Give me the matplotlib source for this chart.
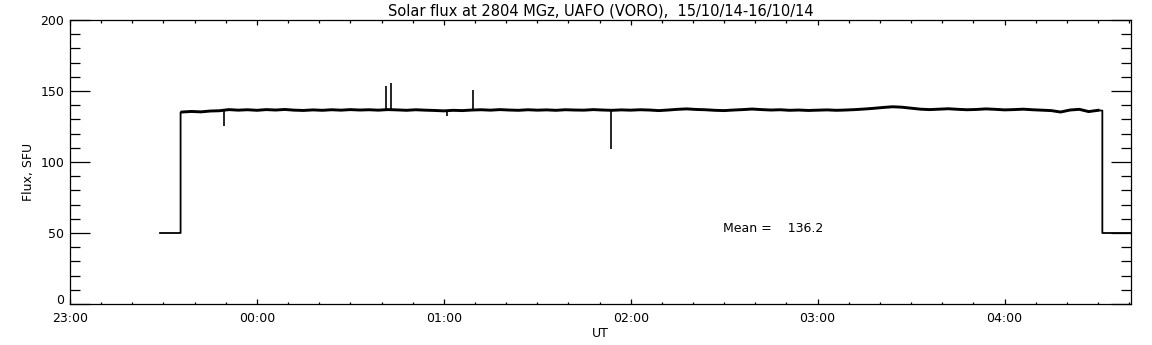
import matplotlib
matplotlib.use("Agg")
import matplotlib.pyplot as plt
from matplotlib.ticker import MultipleLocator, FixedLocator
import numpy as np

# time in minutes after 23:00 (15/10/14)
base_t = list(range(36, 331, 3))
base_v = [135.2, 135.6, 135.3, 135.9, 136.1, 136.9, 136.5, 136.8, 136.4, 136.9,
          136.6, 137.0, 136.5, 136.3, 136.7, 136.4, 136.8, 136.5, 136.9, 136.6,
          136.8, 136.5, 136.9, 136.7, 136.4, 136.8, 136.5, 136.3, 136.0, 136.4,
          136.2, 136.6, 136.8, 136.5, 136.9, 136.6, 136.4, 136.8, 136.5, 136.7,
          136.4, 136.8, 136.6, 136.5, 136.9, 136.6, 136.4, 136.7, 136.5, 136.8,
          136.6, 136.2, 136.6, 137.1, 137.4, 137.0, 136.8, 136.4, 136.2, 136.6,
          136.9, 137.3, 136.9, 136.6, 136.8, 136.4, 136.6, 136.3, 136.5, 136.7,
          136.4, 136.6, 136.9, 137.3, 137.8, 138.4, 138.9, 138.6, 137.9, 137.2,
          136.9, 137.2, 137.5, 137.1, 136.8, 137.0, 137.4, 137.1, 136.7, 136.9,
          137.2, 136.8, 136.5, 136.2, 135.2, 136.6, 137.1, 135.5, 136.4]

# calibration/off segments
pre_t = [28.9, 35.5, 35.5, 36.0]
pre_v = [50.0, 50.0, 135.0, 135.2]
post_t = [330.0, 331.4, 331.4, 340.6]
post_v = [136.4, 136.2, 50.0, 50.0]

# spikes: time, extreme value, surrounding level
spike_t = [49.4, 101.4, 103.0, 121.1, 129.5, 173.8]
spike_v = [125.5, 153.5, 155.6, 132.4, 150.7, 108.9]
spike_base = [136.3, 136.6, 136.6, 136.4, 136.6, 136.6]

x_ticks = [0, 60, 120, 180, 240, 300]
x_labels = ["23:00", "00:00", "01:00", "02:00", "03:00", "04:00"]
y_ticks = [0, 50, 100, 150, 200]
y_labels = ["0", "50", "100", "150", "200"]

title = "Solar flux at 2804 MGz, UAFO (VORO),  15/10/14-16/10/14"
mean_text = "Mean =    136.2"

fig = plt.figure(figsize=(11.52, 3.45), dpi=100)
ax = fig.add_axes([70/1152, 1-304/345, (1131-70)/1152, (304-20)/345])

ax.plot(base_t, base_v, color="black", lw=2.1, solid_joinstyle="miter")
ax.plot(pre_t, pre_v, color="black", lw=1.3)
ax.plot(post_t, post_v, color="black", lw=1.3)
ax.vlines(spike_t, spike_v, spike_base, color="black", lw=1.2)

ax.set_xlim(0, 340.6)
ax.set_ylim(0, 200)
ax.xaxis.set_major_locator(FixedLocator(x_ticks))
ax.set_xticklabels(x_labels)
ax.xaxis.set_minor_locator(MultipleLocator(10))
ax.yaxis.set_major_locator(FixedLocator(y_ticks))
ax.set_yticklabels(y_labels)
ax.yaxis.set_minor_locator(MultipleLocator(10))

ax.tick_params(axis="x", which="major", direction="in", length=3.6, width=0.9,
               top=True, bottom=True, labelsize=9, pad=5.5)
ax.tick_params(axis="x", which="minor", direction="in", length=1.8, width=0.9,
               top=True, bottom=True)
ax.tick_params(axis="y", which="major", direction="in", length=14.4, width=0.9,
               left=True, right=True, labelsize=9, pad=4)
ax.tick_params(axis="y", which="minor", direction="in", length=7.2, width=0.9,
               left=True, right=True)
ax.get_yticklabels()[0].set_verticalalignment("baseline")
for s in ax.spines.values():
    s.set_linewidth(0.9)

ax.set_title(title, fontsize=10.5, pad=3)
ax.set_xlabel("UT", fontsize=9, labelpad=2)
ax.set_ylabel("Flux, SFU", fontsize=9, labelpad=12)
ax.yaxis.set_label_coords(-0.033, 0.465)
ax.text(209.6, 53, mean_text, fontsize=9, ha="left", va="center")

fig.savefig("out.png", dpi=100)
